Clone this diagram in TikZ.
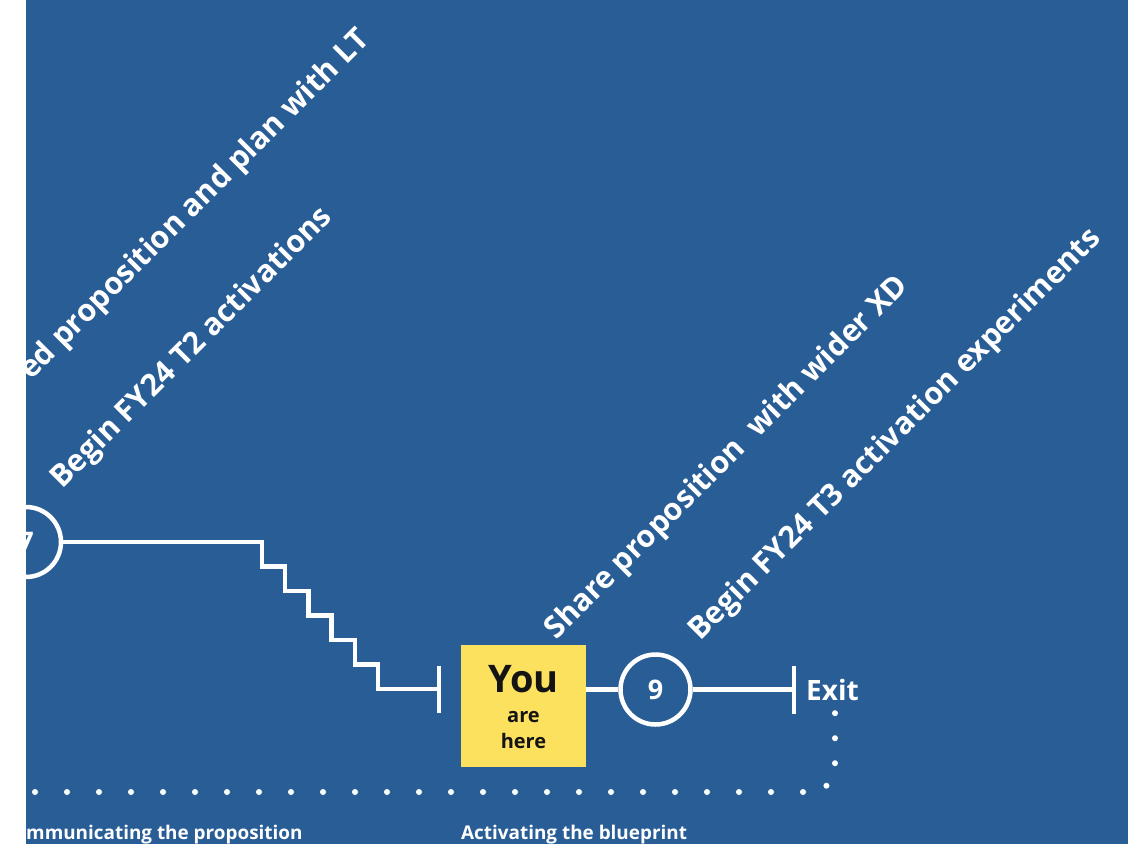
\documentclass[tikz,border=0pt]{standalone}
\usepackage{fontspec}
\setmainfont{Open Sans}
\usetikzlibrary{positioning}
\definecolor{mapblue}{RGB}{40,93,150}
\definecolor{youyellow}{RGB}{252,225,95}
\definecolor{inkblack}{RGB}{20,20,20}
\begin{document}
\begin{tikzpicture}[x=1pt, y=-1pt,
  wire/.style={draw=white, line width=4.5pt},
  stopnode/.style={circle, draw=white, line width=4.5pt, minimum size=70pt, inner sep=0pt, text=white, font=\fontsize{27}{30}\selectfont\bfseries},
  steplabel/.style={rotate=45, anchor=base west, inner sep=0pt, text=white, font=\fontsize{30.5}{34}\selectfont\bfseries},
  phaselabel/.style={anchor=base west, inner sep=0pt, text=white, font=\fontsize{18.9}{22}\selectfont\bfseries},
  youtext/.style={anchor=base, inner sep=0pt, text=inkblack},
  dotline/.style={draw=white, line width=6pt, line cap=round, dash pattern=on 0pt off 32pt}]
\useasboundingbox (0,0) rectangle (1128,844);
\fill[white] (0,0) rectangle (1128,844);
\fill[mapblue] (26,0) rectangle (1128,844);
\begin{scope}
\clip (26,0) rectangle (1128,844);
\node[stopnode] (c7) at (26,542) {7};
\node[stopnode] (c9) at (655.5,689.5) {9};
\node[fill=youyellow, minimum width=125pt, minimum height=122pt, inner sep=0pt] (you) at (523.5,706) {};
\node[youtext, font=\fontsize{38}{40}\selectfont\bfseries] (youtxt) at (523.5,692) {You};
\node[youtext, font=\fontsize{20}{24}\selectfont\bfseries] (aretxt) at (523.5,722) {are};
\node[youtext, font=\fontsize{20}{24}\selectfont\bfseries] (heretxt) at (523.5,748) {here};
\coordinate (bar1) at (439,689);
\coordinate (bar2) at (794,689.5);
\draw[wire] (c7.east) -- (262,542) \foreach \s in {1,...,5}{ -- ++(0,24.5) -- ++(23.2,0)} -- ++(0,24.5) -- (bar1);
\draw[wire] ([yshift=23.5pt]bar1) -- ([yshift=-23.5pt]bar1);
\draw[wire] (c9.west -| you.east) -- (c9.west);
\draw[wire] (c9.east) -- (bar2);
\draw[wire] ([yshift=24pt]bar2) -- ([yshift=-24pt]bar2);
\node[right=12pt of bar2, inner sep=0pt, text=white, font=\fontsize{28}{30}\selectfont\bfseries] (exit) {Exit};
\coordinate (dotL) at (35,792);
\coordinate (dotM) at (803,792);
\coordinate (dotC) at (835,792);
\coordinate (dotT) at (835,708);
\draw[dotline] (dotL) -- (dotM);
\draw[dotline, dash pattern=on 0pt off 25pt, rounded corners=25pt] (dotM) -- (dotC) -- (dotT);
\node[steplabel] (lbl7a) at (31,381) {ed proposition and plan with LT};
\node[steplabel] (lbl7b) at (62,490) {Begin FY24 T2 activations};
\node[steplabel] (lbl9a) at (556,641) {Share proposition\ \ with wider XD};
\node[steplabel] (lbl9b) at (700,642) {Begin FY24 T3 activation experiments};
\node[phaselabel] (phase1) at (26,839) {mmunicating the proposition};
\node[phaselabel] (phase2) at (461,839) {Activating the blueprint};
\end{scope}
\end{tikzpicture}
\end{document}
